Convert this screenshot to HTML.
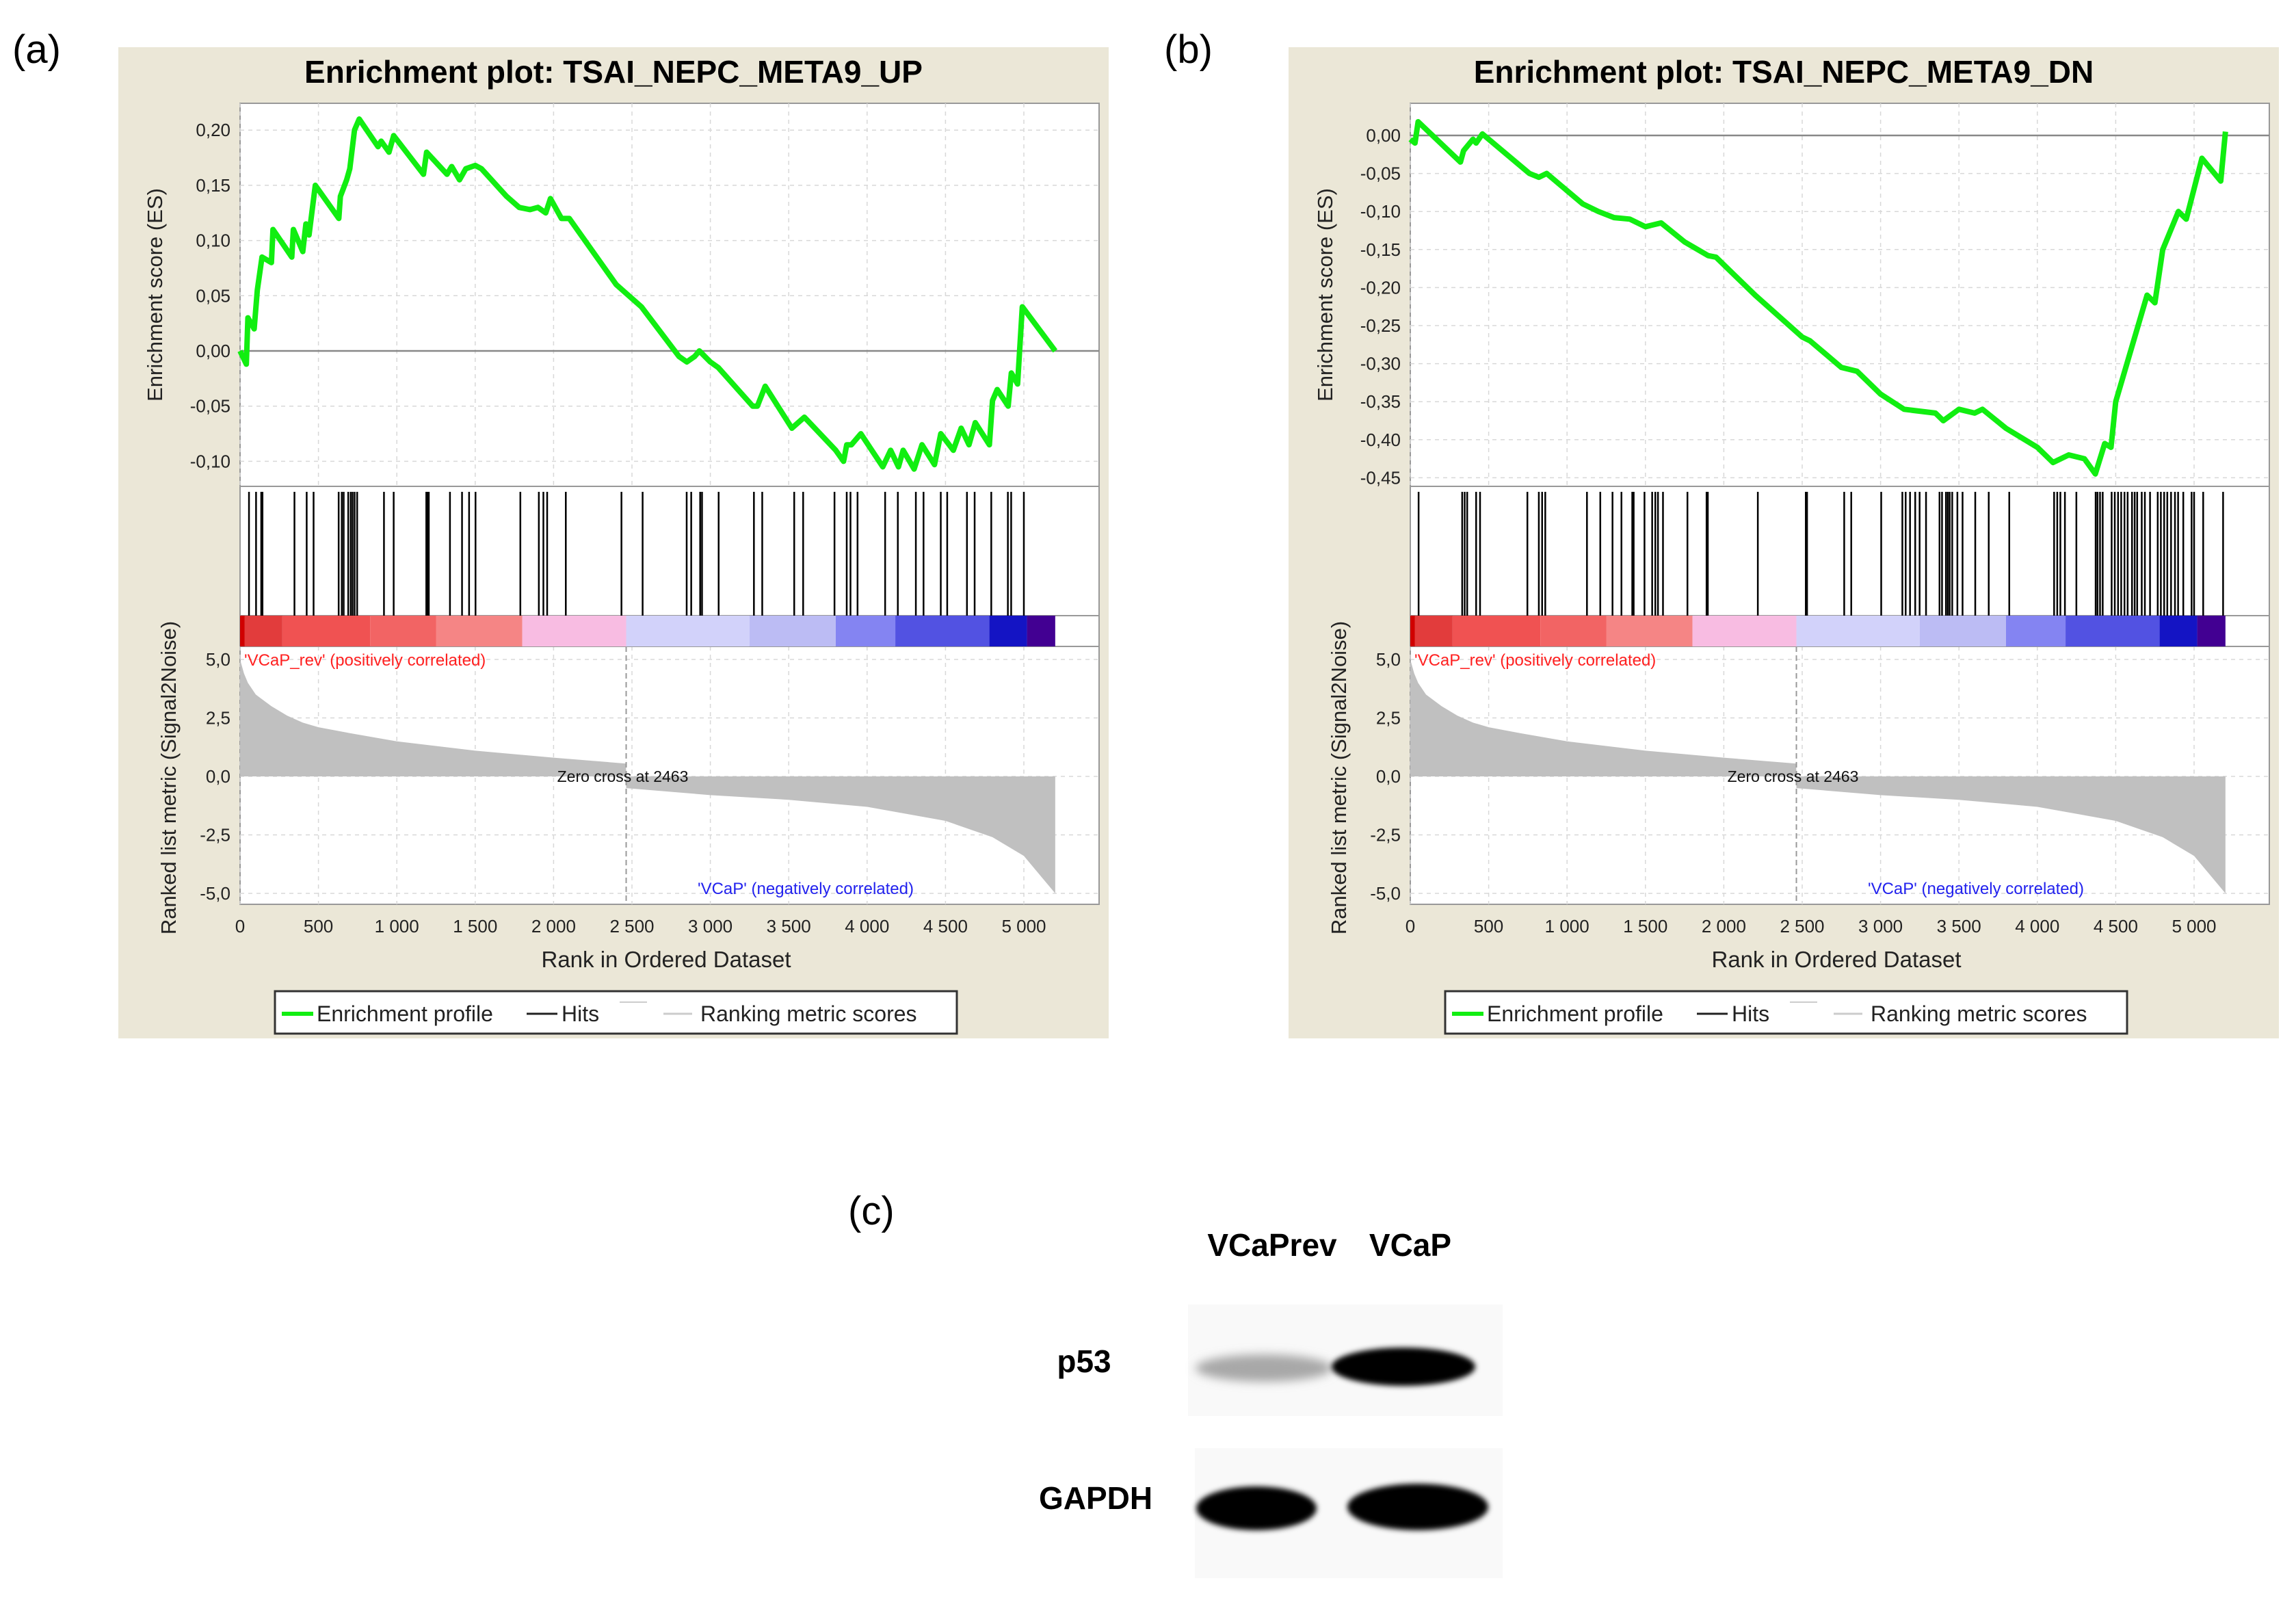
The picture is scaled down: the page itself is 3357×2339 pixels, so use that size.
<!DOCTYPE html>
<html><head><meta charset="utf-8"><style>
html,body{margin:0;padding:0;background:#fff}
svg{display:block}
text{font-family:"Liberation Sans",sans-serif}
</style></head><body>
<svg id="fig" width="3357" height="2339" viewBox="0 0 3357 2339" xmlns="http://www.w3.org/2000/svg">
<defs>
<filter id="blur6" x="-20%" y="-50%" width="140%" height="200%"><feGaussianBlur stdDeviation="7"/></filter>
<filter id="blur3" x="-20%" y="-50%" width="140%" height="200%"><feGaussianBlur stdDeviation="4"/></filter>
</defs>
<text x="18" y="92" font-size="58">(a)</text>
<text x="1702" y="92" font-size="58">(b)</text>
<text x="1240" y="1790" font-size="58">(c)</text>
<g id="panelA"></g>
<g id="panelB"></g>
<g>
  <text x="1860" y="1836" font-size="46" font-weight="bold" text-anchor="middle">VCaPrev</text>
  <text x="2062" y="1836" font-size="46" font-weight="bold" text-anchor="middle">VCaP</text>
  <text x="1585" y="2006" font-size="46" font-weight="bold" text-anchor="middle">p53</text>
  <text x="1602" y="2206" font-size="46" font-weight="bold" text-anchor="middle">GAPDH</text>
  <rect x="1737" y="1907" width="460" height="163" fill="#f9f9f9"/>
  <ellipse cx="1848" cy="2000" rx="100" ry="20" fill="#a8a8a8" filter="url(#blur6)"/>
  <ellipse cx="2052" cy="1998" rx="105" ry="28" fill="#000" filter="url(#blur3)"/>
  <rect x="1747" y="2117" width="450" height="190" fill="#f9f9f9"/>
  <ellipse cx="1837" cy="2205" rx="88" ry="32" fill="#000" filter="url(#blur3)"/>
  <ellipse cx="2073" cy="2203" rx="103" ry="34" fill="#000" filter="url(#blur3)"/>
</g>
</svg>
<script>
const esRanksA=[0,40,50,90,110,140,200,210,330,340,400,420,440,480,630,640,680,700,730,760,880,900,950,980,1170,1190,1320,1350,1400,1440,1500,1540,1700,1780,1850,1900,1950,1980,2050,2100,2400,2560,2800,2850,2900,2930,3000,3050,3270,3300,3350,3520,3560,3600,3800,3850,3870,3900,3960,4100,4150,4200,4230,4300,4350,4430,4470,4550,4600,4650,4690,4780,4800,4830,4900,4920,4960,4990,5200];
const esValsA=[0,-0.012,0.03,0.02,0.055,0.085,0.08,0.11,0.085,0.11,0.09,0.115,0.105,0.15,0.12,0.14,0.155,0.165,0.2,0.21,0.185,0.19,0.18,0.195,0.16,0.18,0.16,0.167,0.155,0.165,0.168,0.165,0.14,0.13,0.128,0.13,0.125,0.138,0.12,0.12,0.06,0.04,-0.005,-0.01,-0.005,0,-0.01,-0.015,-0.05,-0.05,-0.032,-0.07,-0.065,-0.06,-0.09,-0.1,-0.085,-0.085,-0.075,-0.105,-0.09,-0.105,-0.09,-0.107,-0.085,-0.103,-0.075,-0.09,-0.07,-0.085,-0.065,-0.085,-0.045,-0.035,-0.05,-0.02,-0.03,0.04,0];
const esRanksB=[0,30,50,320,340,400,420,460,760,820,870,1100,1200,1300,1400,1500,1600,1750,1900,1950,2200,2500,2550,2750,2850,3000,3150,3350,3400,3500,3600,3650,3800,4000,4100,4200,4300,4370,4430,4470,4500,4600,4700,4750,4800,4900,4950,5050,5170,5200];
const esValsB=[-0.005,-0.01,0.018,-0.035,-0.02,-0.005,-0.01,0.002,-0.05,-0.055,-0.05,-0.09,-0.1,-0.108,-0.11,-0.12,-0.115,-0.14,-0.158,-0.16,-0.21,-0.265,-0.27,-0.305,-0.31,-0.34,-0.36,-0.365,-0.375,-0.36,-0.365,-0.36,-0.385,-0.41,-0.43,-0.42,-0.425,-0.445,-0.405,-0.41,-0.35,-0.28,-0.21,-0.22,-0.15,-0.10,-0.11,-0.03,-0.06,0.005];
const hitsA=[57,102,135,143,347,425,469,629,649,661,690,706,718,731,747,918,980,1188,1196,1204,1339,1416,1461,1502,1788,1906,1935,1959,2078,2433,2568,2849,2878,2935,2947,3053,3278,3331,3535,3592,3792,3870,3894,3939,4115,4196,4311,4360,4470,4511,4637,4686,4792,4898,4919,5000];
const hitsB=[53,331,347,363,420,445,747,820,841,861,1127,1212,1290,1347,1416,1425,1494,1543,1563,1580,1612,1768,1890,1898,2217,2523,2531,2768,2813,3004,3139,3160,3188,3221,3249,3290,3376,3392,3417,3429,3441,3457,3490,3523,3604,3690,3821,4107,4127,4147,4176,4249,4372,4384,4400,4417,4474,4494,4515,4535,4556,4576,4604,4621,4637,4666,4686,4719,4768,4788,4809,4829,4853,4878,4898,4931,4984,5000,5058,5185];
const metricRanks=[0,25,50,100,200,300,400,500,700,1000,1500,2000,2462,2463,3000,3500,4000,4500,4800,5000,5100,5200];
const metricVals=[5.0,4.4,4.0,3.5,3.0,2.6,2.3,2.1,1.85,1.5,1.1,0.8,0.55,-0.5,-0.8,-1.0,-1.3,-1.9,-2.6,-3.4,-4.2,-5.0];
const barStarts=[0,30,270,830,1250,1800,2463,3250,3800,4180,4780,5020];
const barEnds=[30,270,830,1250,1800,2463,3250,3800,4180,4780,5020,5200];
const barColors=['#d00000','#e23c3c','#f05252','#f26464','#f58585','#f8bce2','#d2d2fa','#bcbcf4','#8484f2','#5252e2','#1414c4','#420092'];
const xTicks=[0,500,1000,1500,2000,2500,3000,3500,4000,4500,5000];
const xTickLabels=['0','500','1 000','1 500','2 000','2 500','3 000','3 500','4 000','4 500','5 000'];
const esTicksA=[0.20,0.15,0.10,0.05,0,-0.05,-0.10];
const esTickLabelsA=['0,20','0,15','0,10','0,05','0,00','-0,05','-0,10'];
const esTicksB=[0,-0.05,-0.10,-0.15,-0.20,-0.25,-0.30,-0.35,-0.40,-0.45];
const esTickLabelsB=['0,00','-0,05','-0,10','-0,15','-0,20','-0,25','-0,30','-0,35','-0,40','-0,45'];
const mTicks=[5,2.5,0,-2.5,-5];
const mTickLabels=['5,0','2,5','0,0','-2,5','-5,0'];

const NS='http://www.w3.org/2000/svg';
function mk(parent,tag,attrs,txt){const e=document.createElementNS(NS,tag);for(const k in attrs)e.setAttribute(k,attrs[k]);if(txt!==undefined)e.textContent=txt;parent.appendChild(e);return e;}

function panel(g,dx,title,esR,esV,esTicks,esLabels,es0,esScale,hits){
  const L=351+dx,R=1607+dx,T=151,ESB=711,HB=900,CB=945,MB=1322;
  const xs=r=>L+r*0.2292;
  const ys=v=>es0-v*esScale;
  const ym=v=>1135-v*34.2;
  let e;
  e=mk(g,'rect',{x:173+dx,y:69,width:1448,height:1449,fill:'#ebe7d7'});
  
  
  e=mk(g,'text',{x:897+dx,y:121,'font-size':46,'font-weight':'bold','text-anchor':'middle'},title);
  
  
  e=mk(g,'rect',{x:L,y:T,width:R-L,height:MB-T,fill:'#fff',stroke:'#999','stroke-width':2});
  
  
  xTicks.forEach(t=>{
    [[T,ESB],[CB,MB]].forEach(([a,b])=>{
      e=mk(g,'line',{x1:xs(t),x2:xs(t),y1:a,y2:b,stroke:'#d8d8d8','stroke-width':1.5,'stroke-dasharray':'6,6'});
      
      
    });
  });
  esTicks.forEach((t,i)=>{
    e=mk(g,'line',{x1:L,x2:R,y1:ys(t),y2:ys(t),stroke:'#d8d8d8','stroke-width':1.5,'stroke-dasharray':'6,6'});
    
    
    e=mk(g,'text',{x:L-14,y:ys(t)+9,'font-size':26,'text-anchor':'end',fill:'#222'},esLabels[i]);
    
    
  });
  mTicks.forEach((t,i)=>{
    e=mk(g,'line',{x1:L,x2:R,y1:ym(t),y2:ym(t),stroke:'#d8d8d8','stroke-width':1.5,'stroke-dasharray':'6,6'});
    
    
    e=mk(g,'text',{x:L-14,y:ym(t)+9,'font-size':26,'text-anchor':'end',fill:'#222'},mTickLabels[i]);
    
    
  });
  [ESB,HB,CB].forEach(y=>{e=mk(g,'line',{x1:L,x2:R,y1:y,y2:y,stroke:'#999','stroke-width':2});
    
    });
  e=mk(g,'line',{x1:L,x2:R,y1:ys(0),y2:ys(0),stroke:'#888','stroke-width':2.5});
  
  
  e=mk(g,'polyline',{points:esR.map((r,i)=>xs(r)+','+ys(esV[i])).join(' '),fill:'none',stroke:'#11ee11','stroke-width':8,'stroke-linejoin':'round'});
  
  
  hits.forEach(h=>{
    e=mk(g,'line',{x1:xs(h),x2:xs(h),y1:ESB+8,y2:HB,stroke:'#000','stroke-width':2.5});
    
    
  });
  barStarts.forEach((s,i)=>{
    e=mk(g,'rect',{x:xs(s),y:HB,width:xs(barEnds[i])-xs(s),height:CB-HB,fill:barColors[i]});
    
    
  });
  let pts=[xs(0)+','+ym(0)];
  metricRanks.forEach((r,i)=>pts.push(xs(r)+','+ym(metricVals[i])));
  pts.push(xs(metricRanks[metricRanks.length-1])+','+ym(0));
  e=mk(g,'polygon',{points:pts.join(' '),fill:'#c0c0c0'});
  
  
  e=mk(g,'line',{x1:xs(2463),x2:xs(2463),y1:CB,y2:MB,stroke:'#999','stroke-width':2,'stroke-dasharray':'8,5'});
  
  
  e=mk(g,'text',{x:xs(2463)-5,y:1143,'font-size':23,'text-anchor':'middle',fill:'#111'},'Zero cross at 2463');
  
  
  e=mk(g,'text',{x:L+6,y:973,'font-size':24,fill:'#ff2020'},"'VCaP_rev' (positively correlated)");
  
  
  e=mk(g,'text',{x:1178+dx,y:1307,'font-size':24,'text-anchor':'middle',fill:'#2222ee'},"'VCaP' (negatively correlated)");
  
  
  xTicks.forEach((t,i)=>{
    e=mk(g,'text',{x:xs(t),y:1363,'font-size':26,'text-anchor':'middle',fill:'#222'},xTickLabels[i]);
    
    
  });
  e=mk(g,'text',{x:974+dx,y:1414,'font-size':33,'text-anchor':'middle',fill:'#222'},'Rank in Ordered Dataset');
  
  
  e=mk(g,'text',{x:0,y:0,'font-size':31,'text-anchor':'middle',fill:'#222',transform:'translate('+(237+dx)+',431) rotate(-90)'},'Enrichment score (ES)');
  
  
  e=mk(g,'text',{x:0,y:0,'font-size':31,'text-anchor':'middle',fill:'#222',transform:'translate('+(257+dx)+',1137) rotate(-90)'},'Ranked list metric (Signal2Noise)');
  
  
  const lg=mk(g,'g',{});
  
  
  e=mk(lg,'rect',{x:402+dx,y:1449,width:997,height:62,fill:'#fff',stroke:'#333','stroke-width':3});
  
  
  e=mk(lg,'line',{x1:412+dx,x2:458+dx,y1:1482,y2:1482,stroke:'#11ee11','stroke-width':6});
  
  
  e=mk(lg,'text',{x:463+dx,y:1493,'font-size':32,fill:'#222'},'Enrichment profile');
  
  
  e=mk(lg,'line',{x1:770+dx,x2:815+dx,y1:1482,y2:1482,stroke:'#222','stroke-width':3});
  
  
  e=mk(lg,'text',{x:821+dx,y:1493,'font-size':32,fill:'#222'},'Hits');
  
  
  e=mk(lg,'line',{x1:906+dx,x2:946+dx,y1:1465,y2:1465,stroke:'#ccc','stroke-width':2});
  
  
  e=mk(lg,'line',{x1:970+dx,x2:1012+dx,y1:1482,y2:1482,stroke:'#ccc','stroke-width':3});
  
  
  e=mk(lg,'text',{x:1024+dx,y:1493,'font-size':32,fill:'#222'},'Ranking metric scores');
  
  
}
panel(document.getElementById('panelA'),0,'Enrichment plot: TSAI_NEPC_META9_UP',esRanksA,esValsA,esTicksA,esTickLabelsA,513,1614,hitsA);
panel(document.getElementById('panelB'),1711,'Enrichment plot: TSAI_NEPC_META9_DN',esRanksB,esValsB,esTicksB,esTickLabelsB,198,1112,hitsB);
</script>
</body></html>
